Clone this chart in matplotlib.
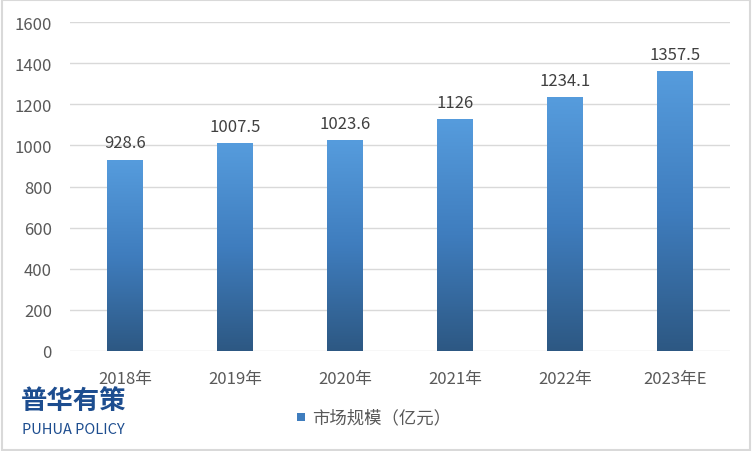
import numpy as np
import matplotlib.pyplot as plt
from matplotlib.colors import LinearSegmentedColormap
from matplotlib.patches import Rectangle

plt.rcParams['font.family'] = ['Noto Sans CJK SC', 'DejaVu Sans']

years = ['2018年', '2019年', '2020年', '2021年', '2022年', '2023年E']
values = [928.6, 1007.5, 1023.6, 1126, 1234.1, 1357.5]
labels = ['928.6', '1007.5', '1023.6', '1126', '1234.1', '1357.5']
series_name = '市场规模（亿元）'

grad = LinearSegmentedColormap.from_list('bar', ['#2D5883', '#3F7DBE', '#569CDD'])

fig = plt.figure(figsize=(7.52, 4.52), dpi=100)
ax = fig.add_axes([70 / 752, 1 - 352 / 452, 660 / 752, 329 / 452])

x = np.arange(len(years))
bars = ax.bar(x, values, width=0.32, color='none', zorder=2)

# fill each bar with a vertical gradient
g = np.linspace(0, 1, 256).reshape(-1, 1)
for b in bars:
    x0, w, h = b.get_x(), b.get_width(), b.get_height()
    ax.imshow(g, cmap=grad, origin='lower', aspect='auto',
              extent=(x0, x0 + w, 0, h), zorder=2)

for xi, v, lab in zip(x, values, labels):
    ax.text(xi, v + 42, lab, ha='center', va='bottom', fontsize=12, color='#404040')

ax.set_xlim(-0.5, len(years) - 0.5)
ax.set_ylim(0, 1600)
ax.set_yticks(range(0, 1601, 200))
ax.set_xticks(x)
ax.set_xticklabels(years)
ax.tick_params(axis='both', length=0, labelsize=12, labelcolor='#595959')
ax.tick_params(axis='y', pad=13)
ax.tick_params(axis='x', pad=14)
ax.grid(axis='y', color='#D9D9D9', linewidth=1, zorder=0)
ax.set_axisbelow(True)
for s in ax.spines.values():
    s.set_visible(False)

# legend
fig.patches.append(Rectangle((297 / 752, 1 - 422 / 452), 8 / 752, 8 / 452,
                             transform=fig.transFigure, facecolor='#3F7DBE',
                             edgecolor='none'))
fig.text(312 / 752, 1 - 418 / 452, series_name, ha='left', va='center',
         fontsize=12.5, color='#595959')

# logo
fig.text(21 / 752, 1 - 401 / 452, '普华有策', ha='left', va='center',
         fontsize=19, fontweight='bold', color='#1D4D8F')
fig.text(22 / 752, 1 - 430 / 452, 'PUHUA POLICY', ha='left', va='center',
         fontsize=10.5, fontweight='medium', color='#1D4D8F')

# outer border
fig.patches.append(Rectangle((0.002, 0.003), 0.996, 0.994, transform=fig.transFigure,
                             facecolor='none', edgecolor='#D9D9D9', linewidth=1.5))

fig.savefig('out.png', dpi=100)
